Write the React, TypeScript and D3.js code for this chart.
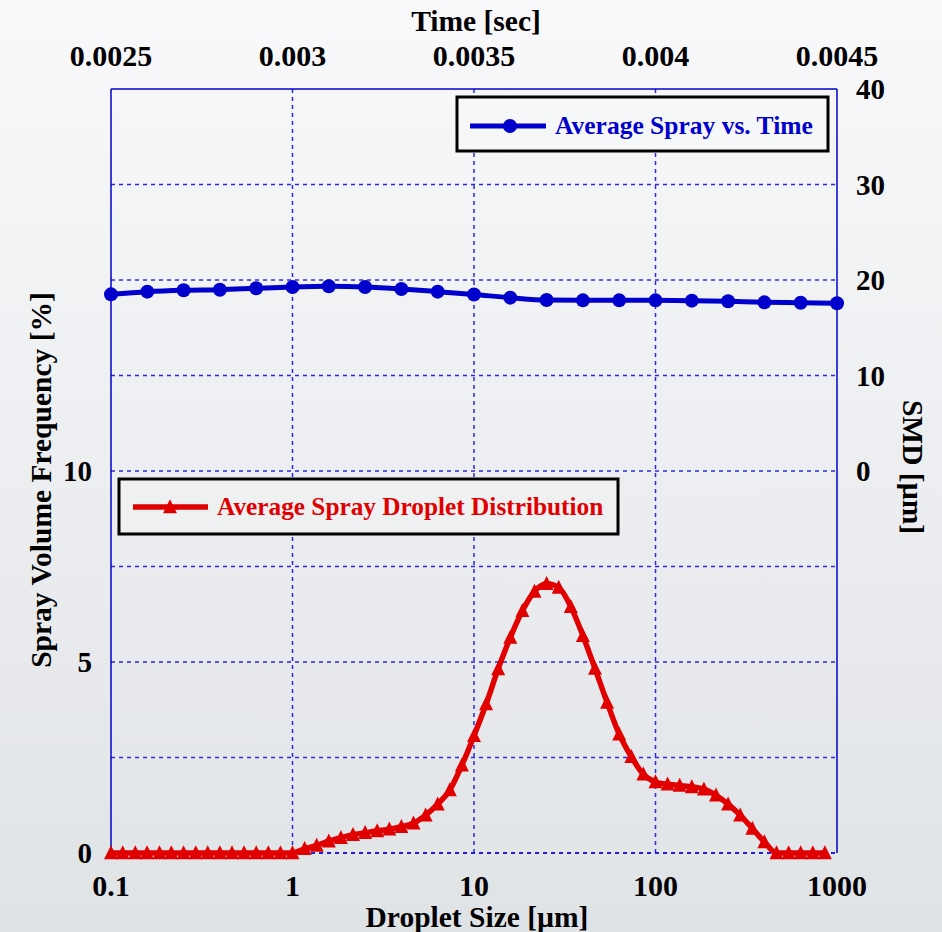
import React from "react";
import * as d3 from "d3";

const W = 942;
const H = 932;

// Droplet size distribution (bottom/left axes)
const dropletSizes = [
  0.1, 0.116, 0.136, 0.158, 0.185, 0.215, 0.251, 0.293, 0.341, 0.398, 0.464, 0.541, 0.631, 0.736, 0.858,
  1, 1.166, 1.359, 1.585, 1.848, 2.154, 2.512, 2.929, 3.415, 3.981, 4.642, 5.412, 6.31, 7.356, 8.577,
  10, 11.66, 13.59, 15.85, 18.48, 21.54, 25.12, 29.29, 34.15, 39.81, 46.42, 54.12, 63.1, 73.56, 85.77,
  100, 116.6, 135.9, 158.5, 184.8, 215.4, 251.2, 292.9, 341.5, 398.1, 464.2, 541.2, 631, 735.6, 857.7,
];
const volumeFreq = [
  0, 0, 0, 0, 0, 0, 0, 0, 0, 0, 0, 0, 0, 0, 0,
  0, 0.11, 0.2, 0.31, 0.4, 0.48, 0.53, 0.58, 0.62, 0.69, 0.78, 0.99, 1.28, 1.65, 2.3,
  3.07, 3.9, 4.82, 5.64, 6.34, 6.85, 7.05, 6.95, 6.45, 5.69, 4.83, 3.94, 3.11, 2.52, 2.06,
  1.86, 1.8, 1.77, 1.73, 1.67, 1.51, 1.28, 0.99, 0.64, 0.29, 0, 0, 0, 0, 0,
];

// SMD vs time (top/right axes)
const times = [
  0.0025, 0.0026, 0.0027, 0.0028, 0.0029, 0.003, 0.0031, 0.0032, 0.0033, 0.0034, 0.0035,
  0.0036, 0.0037, 0.0038, 0.0039, 0.004, 0.0041, 0.0042, 0.0043, 0.0044, 0.0045,
];
const smd = [
  18.5, 18.78, 18.92, 18.98, 19.13, 19.27, 19.34, 19.27, 19.06, 18.78, 18.48,
  18.15, 17.9, 17.87, 17.87, 17.87, 17.84, 17.77, 17.66, 17.62, 17.56,
];

const bottomTicks = [0.1, 1, 10, 100, 1000];
const bottomTickLabels = ["0.1", "1", "10", "100", "1000"];
const leftTicks = [0, 5, 10];
const leftGrid = [2.5, 5, 7.5, 10, 12.5, 15, 17.5];
const topTicks = [0.0025, 0.003, 0.0035, 0.004, 0.0045];
const topTickLabels = ["0.0025", "0.003", "0.0035", "0.004", "0.0045"];
const rightTicks = [0, 10, 20, 30, 40];

const FONT = "'Liberation Serif', 'Times New Roman', serif";
const BLUE = "#0000cc";
const RED = "#e00000";

export default function App() {
  const left = 111, right = 837, top = 89, bottom = 853;
  const x = d3.scaleLog().domain([0.1, 1000]).range([left, right]);
  const y = d3.scaleLinear().domain([0, 20]).range([bottom, top]);
  const xt = d3.scaleLinear().domain([0.0025, 0.0045]).range([left, right]);
  const yr = d3.scaleLinear().domain([-40, 40]).range([bottom, top]);

  const redLine = d3
    .line<number>()
    .x((_, i) => x(dropletSizes[i]))
    .y((d) => y(d))
    .curve(d3.curveMonotoneX)(volumeFreq) as string;
  const blueLine = d3
    .line<number>()
    .x((_, i) => xt(times[i]))
    .y((d) => yr(d))
    .curve(d3.curveMonotoneX)(smd) as string;

  const tri = (cx: number, cy: number, s = 14) =>
    `M${cx},${cy - s * 0.55}L${cx + s / 2},${cy + s * 0.45}L${cx - s / 2},${cy + s * 0.45}Z`;

  const gridStyle = { stroke: "#2a2ae0", strokeWidth: 1.5, strokeDasharray: "4,4" };

  return (
    <svg width={W} height={H} style={{ position: "absolute", left: 0, top: 0 }} fontFamily={FONT} fontWeight="bold">
      <defs>
        <linearGradient id="bg" x1="0" y1="0" x2="0" y2="1">
          <stop offset="0" stopColor="#f9f9fb" />
          <stop offset="1" stopColor="#e0e3e6" />
        </linearGradient>
      </defs>
      <rect x={0} y={0} width={W} height={H} fill="url(#bg)" />

      {/* grid */}
      {leftGrid.map((v) => (
        <line key={"hg" + v} x1={left} x2={right} y1={y(v)} y2={y(v)} {...gridStyle} />
      ))}
      {bottomTicks.slice(1, 4).map((v) => (
        <line key={"vg" + v} x1={x(v)} x2={x(v)} y1={top} y2={bottom} {...gridStyle} />
      ))}
      <line x1={left} x2={right} y1={bottom} y2={bottom} {...gridStyle} stroke="#2020d8" strokeWidth={2} />
      {/* frame */}
      <line x1={left} x2={right} y1={top} y2={top} stroke={BLUE} strokeWidth={1.5} />
      <line x1={left} x2={left} y1={top} y2={bottom} stroke={BLUE} strokeWidth={1.5} />
      <line x1={right} x2={right} y1={top} y2={bottom} stroke={BLUE} strokeWidth={1.5} />

      {/* red series */}
      <path d={redLine} fill="none" stroke={RED} strokeWidth={5.5} />
      {volumeFreq.map((v, i) => (
        <path key={"t" + i} d={tri(x(dropletSizes[i]), y(v))} fill={RED} />
      ))}

      {/* blue series */}
      <path d={blueLine} fill="none" stroke={BLUE} strokeWidth={5} />
      {smd.map((v, i) => (
        <circle key={"c" + i} cx={xt(times[i])} cy={yr(v)} r={7} fill={BLUE} />
      ))}

      {/* bottom axis */}
      {bottomTicks.map((v, i) => (
        <text key={"bt" + v} x={x(v)} y={896} fontSize={30} textAnchor="middle" fill="#000">
          {bottomTickLabels[i]}
        </text>
      ))}
      <text x={477} y={927} fontSize={29.5} textAnchor="middle" fill="#000">
        Droplet Size [µm]
      </text>

      {/* left axis */}
      {leftTicks.map((v) => (
        <text key={"lt" + v} x={92} y={y(v) + 10} fontSize={29} textAnchor="end" fill="#000">
          {v}
        </text>
      ))}
      <text transform={`translate(51,480) rotate(-90)`} fontSize={29.5} textAnchor="middle" fill="#000">
        Spray Volume Frequency [%]
      </text>

      {/* top axis */}
      {topTicks.map((v, i) => (
        <text key={"tt" + v} x={xt(v)} y={66} fontSize={30} textAnchor="middle" fill="#000">
          {topTickLabels[i]}
        </text>
      ))}
      <text x={476} y={31} fontSize={29.5} textAnchor="middle" fill="#000">
        Time [sec]
      </text>

      {/* right axis */}
      {rightTicks.map((v) => (
        <text key={"rt" + v} x={856} y={yr(v) + 10} fontSize={29} textAnchor="start" fill="#000">
          {v}
        </text>
      ))}
      <text transform={`translate(903,467) rotate(90)`} fontSize={29.5} textAnchor="middle" fill="#000">
        SMD [µm]
      </text>

      {/* legend 1 */}
      <rect x={457} y={97} width={371} height={54} fill="#f6f7f9" stroke="#000" strokeWidth={3} />
      <line x1={470} x2={546} y1={126} y2={126} stroke={BLUE} strokeWidth={5} />
      <circle cx={510} cy={126} r={7} fill={BLUE} />
      <text x={555} y={134} fontSize={25.5} fill={BLUE}>
        Average Spray vs. Time
      </text>

      {/* legend 2 */}
      <rect x={119} y={479} width={499} height={55} fill="#eef0f2" stroke="#000" strokeWidth={3} />
      <line x1={133} x2={208} y1={507} y2={507} stroke={RED} strokeWidth={5.5} />
      <path d={tri(170, 507)} fill={RED} />
      <text x={217} y={515} fontSize={25.3} fill={RED}>
        Average Spray Droplet Distribution
      </text>
    </svg>
  );
}
